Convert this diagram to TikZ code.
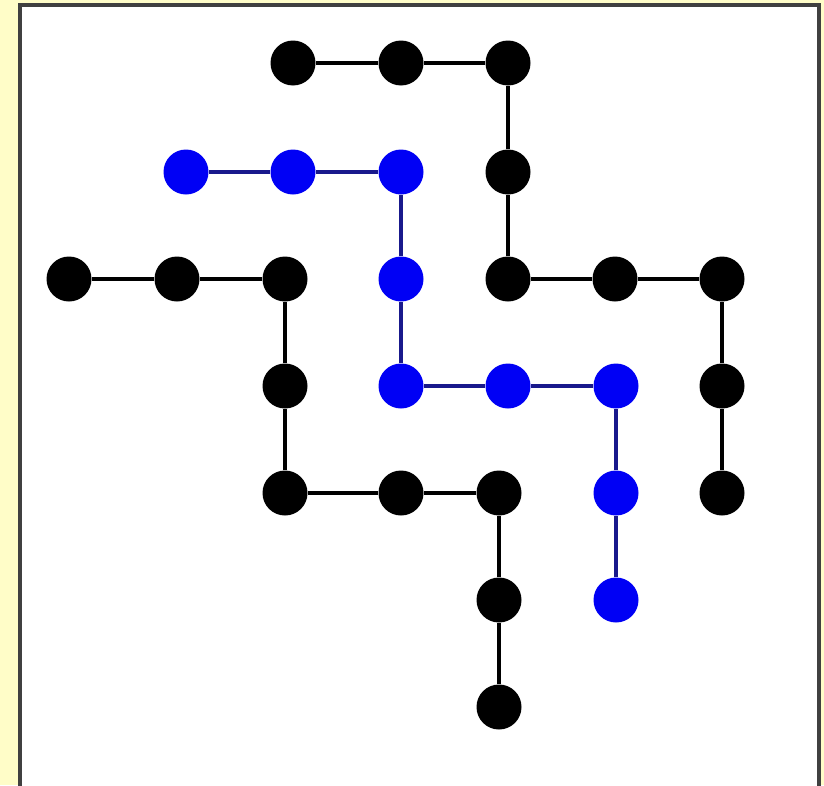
\documentclass[tikz,border=0pt]{standalone}
\definecolor{bgyellow}{RGB}{255,253,200}
\definecolor{framegray}{RGB}{64,64,64}
\definecolor{nodeblue}{RGB}{0,0,245}
\definecolor{edgeblue}{RGB}{25,25,140}
\begin{document}
\begin{tikzpicture}[x=0.75pt,y=-0.75pt,
  blk/.style={circle,fill=black,inner sep=0pt,minimum size=33.75pt},
  blu/.style={circle,fill=nodeblue,inner sep=0pt,minimum size=33.75pt},
  bedge/.style={draw=black,line width=2.7pt},
  uedge/.style={draw=edgeblue,line width=2.7pt}]
\useasboundingbox (0,0) rectangle (824,785);
\fill[bgyellow] (0,0) rectangle (824,785);
\begin{scope}
\clip (0,0) rectangle (824,785);
\filldraw[fill=white,draw=framegray,line width=2.6pt] (20,5) rectangle (819,800);
\end{scope}
% black chain 1
\node[blk] (a1) at (293,63) {};
\node[blk] (a2) at (401,63) {};
\node[blk] (a3) at (508,63) {};
\node[blk] (a4) at (508,172) {};
\node[blk] (a5) at (508,279) {};
\node[blk] (a6) at (615,279) {};
\node[blk] (a7) at (722,279) {};
\node[blk] (a8) at (722,386) {};
\node[blk] (a9) at (722,493) {};
% blue chain
\node[blu] (b1) at (186,172) {};
\node[blu] (b2) at (293,172) {};
\node[blu] (b3) at (401,172) {};
\node[blu] (b4) at (401,279) {};
\node[blu] (b5) at (401,386) {};
\node[blu] (b6) at (508,386) {};
\node[blu] (b7) at (616,386) {};
\node[blu] (b8) at (616,493) {};
\node[blu] (b9) at (616,600) {};
% black chain 2
\node[blk] (c1) at (69,279) {};
\node[blk] (c2) at (177,279) {};
\node[blk] (c3) at (285,279) {};
\node[blk] (c4) at (285,386) {};
\node[blk] (c5) at (285,493) {};
\node[blk] (c6) at (401,493) {};
\node[blk] (c7) at (499,493) {};
\node[blk] (c8) at (499,600) {};
\node[blk] (c9) at (499,707) {};
\draw[bedge] (a1)--(a2)--(a3)--(a4)--(a5)--(a6)--(a7)--(a8)--(a9);
\draw[uedge] (b1)--(b2)--(b3)--(b4)--(b5)--(b6)--(b7)--(b8)--(b9);
\draw[bedge] (c1)--(c2)--(c3)--(c4)--(c5)--(c6)--(c7)--(c8)--(c9);
\end{tikzpicture}
\end{document}
